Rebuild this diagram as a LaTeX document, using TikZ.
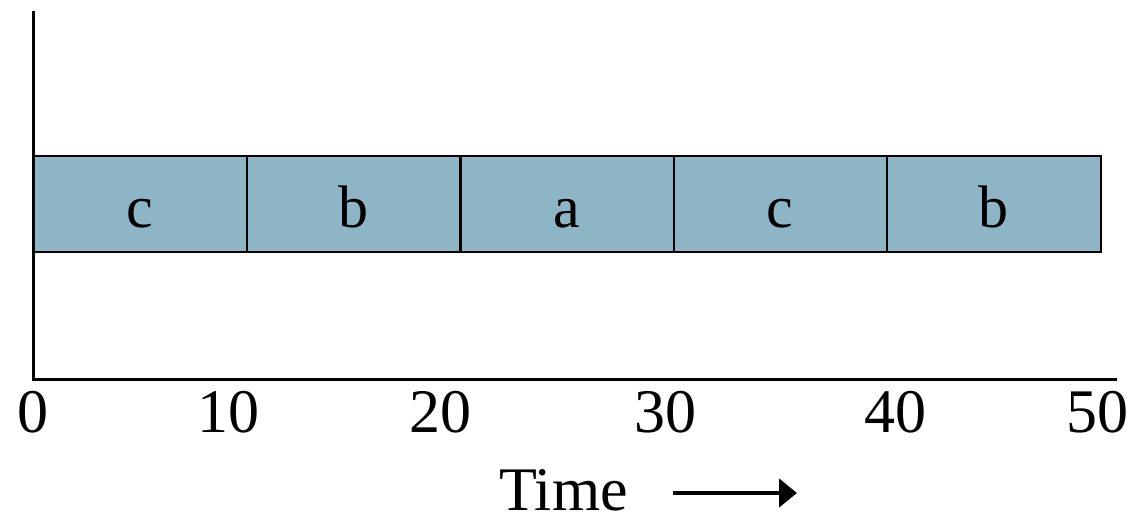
\documentclass[tikz,border=0pt]{standalone}
\usepackage{fontspec}
\setmainfont{Liberation Serif}
\usetikzlibrary{arrows.meta}
\definecolor{barfill}{RGB}{141,181,198}
\tikzset{
  seg/.style={draw=black, line width=2pt, fill=barfill, minimum width=213pt, minimum height=96pt, inner sep=0pt, anchor=north west},
  seglabel/.style={font=\fontsize{60}{60}\selectfont, inner sep=0pt, anchor=base},
  ticklabel/.style={font=\fontsize{62}{62}\selectfont, inner sep=0pt, anchor=base},
  axisline/.style={line width=3pt},
}
\begin{document}
\begin{tikzpicture}[x=1pt,y=-1pt]
\useasboundingbox (0,0) rectangle (1132,514);
% axes
\coordinate (ytop) at (33,11);
\coordinate (origin) at (33,379);
\coordinate (xend) at (1117,379);
\draw[axisline] (ytop) -- (origin) -- (xend);
% bar segments
\node[seg] (s1) at (33,155) {};
\node[seg] (s2) at (246,155) {};
\node[seg] (s3) at (460,155) {};
\node[seg] (s4) at (673,155) {};
\node[seg, minimum width=214pt] (s5) at (886,155) {};
\node[seglabel] (l1) at (139.5,227) {c};
\node[seglabel] (l2) at (353,227) {b};
\node[seglabel] (l3) at (566.5,227) {a};
\node[seglabel] (l4) at (779.5,227) {c};
\node[seglabel] (l5) at (993,227) {b};
% tick labels
\node[ticklabel] (t0) at (33,432) {0};
\node[ticklabel] (t10) at (228,432) {10};
\node[ticklabel] (t20) at (440,432) {20};
\node[ticklabel] (t30) at (665,432) {30};
\node[ticklabel] (t40) at (895,432) {40};
\node[ticklabel] (t50) at (1097,432) {50};
% time label and arrow
\node[ticklabel, anchor=base west, text depth=0pt] (time) at (499,510) {Time};
\coordinate (arrs) at (673,493);
\coordinate (arre) at (797,493);
\draw[line width=4.5pt, -{Triangle[length=18pt,width=28pt]}] (arrs) -- (arre);
\end{tikzpicture}
\end{document}
